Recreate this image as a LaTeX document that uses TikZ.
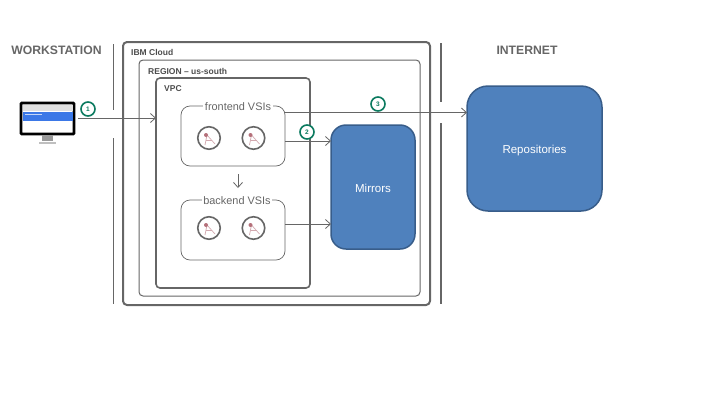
\documentclass[tikz,border=0pt]{standalone}
\usepackage{fontspec}
\setmainfont{Liberation Sans}
\usetikzlibrary{arrows.meta}
\definecolor{linegray}{HTML}{666666}
\definecolor{stepgreen}{HTML}{0B7A5F}
\definecolor{boxblue}{HTML}{4F81BD}
\definecolor{boxedge}{HTML}{385D8A}
\definecolor{iconred}{HTML}{B5707A}
\definecolor{screenblue}{HTML}{3B78E7}
\tikzset{
  area/.style={draw=linegray, rounded corners=4pt, inner sep=0pt, outer sep=0pt},
  vsigroup/.style={area, draw=linegray, line width=0.7pt, rounded corners=9pt, minimum width=104pt, minimum height=60pt},
  bluebox/.style={draw=boxedge, fill=boxblue, line width=1.5pt, rounded corners=15pt, inner sep=0pt, outer sep=0pt, text=white, text height=10pt, text depth=0pt, font=\fontsize{11.5}{13}\selectfont},
  heading/.style={text=linegray, font=\bfseries\fontsize{12.2}{14}\selectfont, inner sep=0pt},
  arealabel/.style={text=black!70, font=\bfseries\fontsize{8.5}{10}\selectfont, inner sep=0pt, anchor=west},
  grouplabel/.style={fill=white, text=linegray, font=\fontsize{10.9}{12}\selectfont, inner sep=1.5pt},
  stepmark/.style={circle, draw=stepgreen, line width=1.6pt, fill=white, text=stepgreen, minimum size=14pt, inner sep=0pt, font=\bfseries\fontsize{6.5}{7}\selectfont},
  vsi/.style={circle, draw=linegray, line width=1.6pt, fill=white, minimum size=22.5pt, inner sep=0pt, outer sep=0pt},
  wall/.style={draw=linegray, line width=1.6pt},
  flow/.style={draw=linegray, line width=0.8pt, -{Straight Barb[length=5pt,width=9pt]}}
}
% compass icon inside a VSI circle
\newcommand{\vsiicon}[1]{
  \draw[iconred!60, line width=0.7pt] ([shift={(-2,-3)}]#1.center) -- ([shift={(-4,7)}]#1.center);
  \draw[iconred!60, line width=0.7pt] ([shift={(-2,-3)}]#1.center) -- ([shift={(6,6)}]#1.center);
  \draw[iconred!60, line width=0.7pt] ([shift={(-3,2)}]#1.center) -- ([shift={(3,2)}]#1.center);
  \fill[iconred] ([shift={(-3,-3)}]#1.center) circle (2pt);
}
\begin{document}
\begin{tikzpicture}[x=1pt, y=-1pt]
  \useasboundingbox (0,0) rectangle (720,405);

  % Walls
  \coordinate (W1) at (113.5,44);
  \coordinate (W2) at (113.5,110);
  \coordinate (W3) at (113.5,138);
  \coordinate (W4) at (113.5,304);
  \coordinate (W5) at (441,43);
  \coordinate (W6) at (441,102);
  \coordinate (W7) at (441,123);
  \coordinate (W8) at (441,304);
  \draw[wall] (W1) -- (W2);
  \draw[wall] (W3) -- (W4);
  \draw[wall] (W5) -- (W6);
  \draw[wall] (W7) -- (W8);

  % Headings
  \node[heading] (workstation) at (56.5,50.5) {WORKSTATION};
  \node[heading] (internet) at (527,50.5) {INTERNET};

  % Areas
  \node[area, line width=2pt, minimum width=307pt, minimum height=263pt] (cloud) at (276.5,173.5) {};
  \node[area, line width=1pt, minimum width=281pt, minimum height=236pt] (region) at (279.5,178) {};
  \node[area, line width=1.6pt, minimum width=154pt, minimum height=210pt] (vpc) at (233,183) {};
  \node[arealabel] (cloudlabel) at (131,52) {IBM Cloud};
  \node[arealabel] (regionlabel) at (148,71) {REGION -- us-south};
  \node[arealabel] (vpclabel) at (164,89) {VPC};

  % VSI groups
  \node[vsigroup] (frontend) at (233,136) {};
  \node[vsigroup] (backend) at (233,230) {};
  \node[grouplabel] (frontendlabel) at (238,106.5) {frontend VSIs};
  \node[grouplabel] (backendlabel) at (237,200.5) {backend VSIs};
  \node[vsi] (vsia) at (209,138) {};
  \node[vsi] (vsib) at (253.5,138) {};
  \node[vsi] (vsic) at (209,228) {};
  \node[vsi] (vsid) at (253.5,228) {};
  \vsiicon{vsia}
  \vsiicon{vsib}
  \vsiicon{vsic}
  \vsiicon{vsid}

  % Blue boxes
  \node[bluebox, minimum width=84pt, minimum height=124pt] (mirrors) at (373,187) {Mirrors};
  \node[bluebox, rounded corners=21pt, minimum width=135pt, minimum height=125pt] (repos) at (534.5,148.5) {Repositories};

  % Monitor
  \node[draw=black, line width=2.6pt, fill=white, minimum width=53pt, minimum height=31pt, inner sep=0pt, rounded corners=0.8pt] (monitor) at (47.5,118.5) {};
  \fill[black!12] (22.5,104.5) rectangle (72.5,111);
  \fill[screenblue] (22.5,111.5) rectangle (72.5,120.5);
  \fill[white!70!screenblue] (25,114) rectangle (42,115);
  \fill[black!40] (42,135) rectangle (53,141);
  \fill[black!25] (39,141.5) rectangle (56,144);

  % Connectors
  \coordinate (wsout) at (78,118);
  \coordinate (two) at (0,141);
  \coordinate (three) at (0,112.5);
  \coordinate (four) at (0,224);
  \draw[flow] (wsout) -- (vpc.west |- wsout);
  \draw[flow] (frontend.east |- three) -- (repos.west |- three);
  \draw[flow] (frontend.east |- two) -- (mirrors.west |- two);
  \draw[flow] (backend.east |- four) -- (mirrors.west |- four);
  \coordinate (downa) at (238,174);
  \coordinate (downb) at (238,188);
  \draw[flow] (downa) -- (downb);

  % Step marks
  \node[stepmark] (stepa) at (88,109) {1};
  \node[stepmark] (stepb) at (307,132) {2};
  \node[stepmark] (stepc) at (378,104) {3};
\end{tikzpicture}
\end{document}
